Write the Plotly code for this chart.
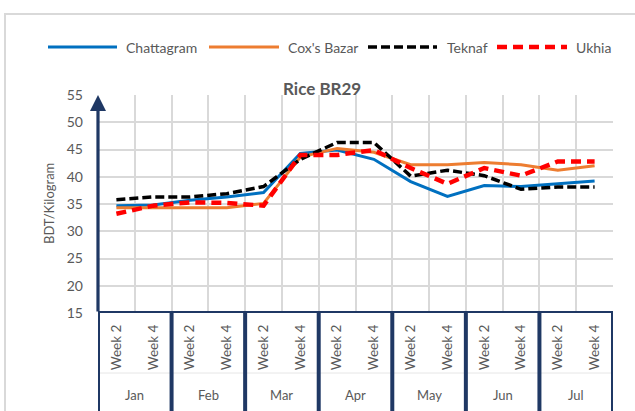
import plotly.graph_objects as go

# ---------------- data ----------------
months = ["Jan", "Feb", "Mar", "Apr", "May", "Jun", "Jul"]
weeks = ["Week 2", "Week 4"] * 7
chattagram = [34.7, 34.8, 35.7, 36.3, 37.1, 44.3, 44.9, 43.2, 39.1, 36.4, 38.4, 38.2, 38.7, 39.2]
coxs_bazar = [34.3, 34.3, 34.3, 34.3, 35.1, 43.6, 45.2, 44.5, 42.2, 42.2, 42.6, 42.2, 41.2, 42.0]
teknaf = [35.8, 36.3, 36.3, 36.9, 38.2, 43.2, 46.3, 46.3, 40.1, 41.2, 40.2, 37.7, 38.1, 38.1]
ukhia = [33.2, 34.7, 35.3, 35.2, 34.7, 44.0, 44.0, 44.9, 41.6, 38.7, 41.6, 40.2, 42.8, 42.8]
series_names = ["Chattagram", "Cox's Bazar", "Teknaf", "Ukhia"]
y_ticks = [15, 20, 25, 30, 35, 40, 45, 50, 55]

# ---------------- styling ----------------
W, H = 635, 411
PL, PR, PT, PB = 98, 613, 95, 313   # plot area in window pixels
L, T = PL, PT
PW, PH = PR - PL, PB - PT
R, B = W - L - PW, H - T - PH
FONT = "Lato, 'Open Sans', sans-serif"
GRAY_TXT = "#595959"
NAVY = "#1F3864"
GRID = "#D9D9D9"
styles = [
    dict(color="#0070C0", width=3, dash="solid"),
    dict(color="#ED7D31", width=3, dash="solid"),
    dict(color="#000000", width=3.5, dash="9px,4px"),
    dict(color="#FF0000", width=4.5, dash="10px,6px"),
]

def px_x(p):
    return (p - PL) / PW

def px_y(p):
    return (PB - p) / PH

xs = list(range(len(weeks)))
fig = go.Figure()
for name, vals, st in zip(series_names, [chattagram, coxs_bazar, teknaf, ukhia], styles):
    fig.add_trace(go.Scatter(x=xs, y=vals, mode="lines", name=name, line=st,
                             showlegend=False, cliponaxis=False))

n = len(weeks)
shapes = []
# outer frame
shapes.append(dict(type="rect", xref="paper", yref="paper",
                   x0=px_x(5), x1=px_x(700), y0=px_y(14), y1=px_y(500),
                   line=dict(color=GRID, width=2), layer="below"))
# row separator (light)
shapes.append(dict(type="line", xref="x", yref="paper", x0=-0.5, x1=n - 0.5,
                   y0=px_y(373), y1=px_y(373), line=dict(color="#E6E6E6", width=1)))
# bottom axis line
shapes.append(dict(type="line", xref="x", yref="y", x0=-0.5, x1=n - 0.5, y0=y_ticks[0], y1=y_ticks[0],
                   line=dict(color=NAVY, width=4)))
# month dividers
for k in range(len(months) + 1):
    xv = -0.5 + 2 * k
    shapes.append(dict(type="line", xref="x", yref="paper", x0=xv, x1=xv,
                       y0=0, y1=px_y(420), line=dict(color=NAVY, width=4)))

annotations = []
# y axis with arrow
annotations.append(dict(x=-0.5, y=y_ticks[-1], ax=-0.5, ay=y_ticks[0], xref="x", yref="y",
                        axref="x", ayref="y", showarrow=True, arrowhead=2, arrowsize=1,
                        arrowwidth=3.2, arrowcolor=NAVY, text=""))
# month labels
for i, m in enumerate(months):
    annotations.append(dict(x=2 * i + 0.5, y=px_y(395), xref="x", yref="paper", text=m,
                            showarrow=False, font=dict(family=FONT, size=13, color=GRAY_TXT),
                            xanchor="center", yanchor="middle"))
# y title
annotations.append(dict(x=px_x(49), y=px_y(204), xref="paper", yref="paper", text="BDT/Kilogram",
                        textangle=-90, showarrow=False, xanchor="center", yanchor="middle",
                        font=dict(family=FONT, size=13, color=GRAY_TXT)))
# legend (manual)
leg_y = px_y(47)
leg_items = [(48, 117, 124), (209, 279, 286), (368, 437, 445), (497, 567, 574)]
for (x0, x1, tx), name, st in zip(leg_items, series_names, styles):
    shapes.append(dict(type="line", xref="paper", yref="paper", x0=px_x(x0), x1=px_x(x1),
                       y0=leg_y, y1=leg_y, line=dict(color=st["color"], width=st["width"], dash=st["dash"])))
    annotations.append(dict(x=px_x(tx), y=leg_y, xref="paper", yref="paper", text=name,
                            showarrow=False, xanchor="left", yanchor="middle",
                            font=dict(family=FONT, size=14, color=GRAY_TXT)))
# title
annotations.append(dict(x=px_x(321.5), y=px_y(89), xref="paper", yref="paper", text="<b>Rice BR29</b>",
                        showarrow=False, xanchor="center", yanchor="middle",
                        font=dict(family=FONT, size=17, color=GRAY_TXT)))

fig.update_layout(
    width=W, height=H,
    margin=dict(l=L, r=R, t=T, b=B, autoexpand=False),
    paper_bgcolor="white", plot_bgcolor="white",
    shapes=shapes, annotations=annotations,
    showlegend=False,
)
fig.update_xaxes(range=[-0.5, n - 0.5], tickmode="array", tickvals=xs, ticktext=weeks,
                 tickangle=-90, ticks="", showgrid=False, zeroline=False, showline=False,
                 ticklabelstandoff=8,
                 tickfont=dict(family=FONT, size=13.5, color=GRAY_TXT),
                 minor=dict(tickmode="array", tickvals=[i - 0.5 for i in range(n + 1)],
                            showgrid=True, gridcolor=GRID, gridwidth=1.5, ticks=""))
fig.update_yaxes(range=[y_ticks[0], y_ticks[-1]], tickmode="array", tickvals=y_ticks,
                 showgrid=True, gridcolor=GRID, gridwidth=1.5, zeroline=False, showline=False,
                 ticks="", ticklabelstandoff=14,
                 tickfont=dict(family=FONT, size=14, color=GRAY_TXT))

fig.write_html("out.html", config={"displayModeBar": False},
               post_script="document.body.style.margin='0';document.body.style.overflow='hidden';")
